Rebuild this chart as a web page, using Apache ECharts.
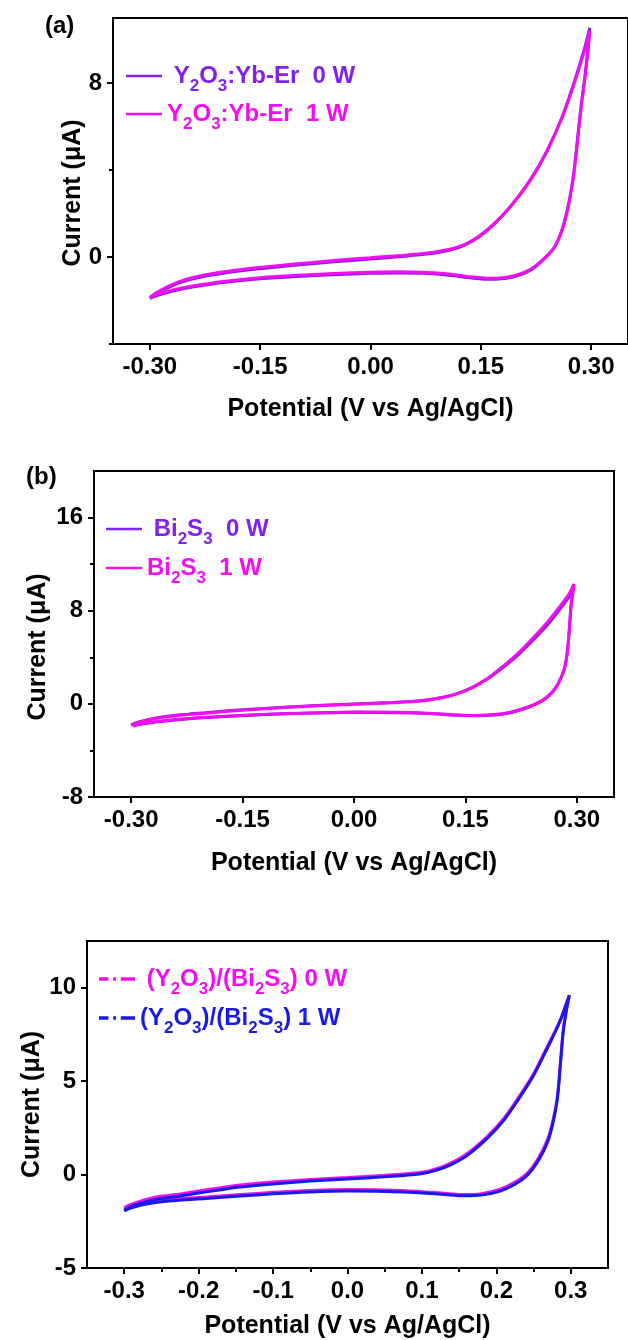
<!DOCTYPE html>
<html>
<head>
<meta charset="utf-8">
<script src="https://cdn.jsdelivr.net/npm/echarts@6/dist/echarts.min.js"></script>
<style>
	html,body{margin:0;padding:0;background:#fff;}
	#cvChart{width:628px;height:1340px;}
</style>
</head>
<body>
<div id="cvChart"></div>
<script>
	// ---- data: cyclic voltammograms, potential (V) / current (uA) ----
	// (a) Y2O3:Yb-Er
	const aFwdX = [-0.300,-0.290,-0.275,-0.260,-0.240,-0.220,-0.200,-0.170,-0.140,-0.100,-0.050,0.000,0.050,0.090,0.120,0.140,0.160,0.180,0.200,0.220,0.240,0.260,0.275,0.290,0.298]
	const aFwd0W = [-1.90,-1.68,-1.41,-1.19,-0.99,-0.85,-0.74,-0.61,-0.50,-0.37,-0.22,-0.09,0.05,0.20,0.44,0.76,1.26,1.92,2.72,3.68,4.88,6.40,7.85,9.50,10.55]
	const aFwd1W = [-1.85,-1.62,-1.35,-1.13,-0.93,-0.79,-0.68,-0.55,-0.44,-0.31,-0.16,-0.03,0.10,0.25,0.48,0.80,1.30,1.95,2.75,3.70,4.90,6.40,7.80,9.40,10.40]
	const aRevX = [0.295,0.291,0.287,0.283,0.279,0.275,0.268,0.260,0.250,0.238,0.225,0.212,0.195,0.175,0.158,0.140,0.120,0.100,0.070,0.040,0.000,-0.050,-0.100,-0.150,-0.200,-0.240,-0.270,-0.290,-0.300]
	const aRev0W = [9.40,8.20,7.15,5.95,4.65,3.55,2.25,1.22,0.45,-0.02,-0.42,-0.71,-0.91,-1.01,-1.02,-0.97,-0.89,-0.81,-0.75,-0.73,-0.75,-0.81,-0.89,-1.00,-1.17,-1.37,-1.57,-1.77,-1.90]
	const aRev1W = [9.30,8.10,7.10,5.90,4.60,3.50,2.20,1.20,0.45,0.00,-0.38,-0.66,-0.86,-0.96,-0.97,-0.92,-0.84,-0.76,-0.70,-0.68,-0.70,-0.76,-0.84,-0.95,-1.12,-1.32,-1.52,-1.72,-1.85]
	// (b) Bi2S3
	const bFwdX = [-0.300,-0.290,-0.275,-0.260,-0.240,-0.220,-0.200,-0.170,-0.140,-0.100,-0.050,0.000,0.050,0.090,0.120,0.140,0.160,0.180,0.200,0.220,0.240,0.260,0.275,0.290,0.296]
	const bFwd0W = [-1.80,-1.56,-1.31,-1.14,-0.98,-0.86,-0.76,-0.60,-0.47,-0.31,-0.14,-0.01,0.12,0.27,0.56,0.90,1.42,2.15,3.10,4.15,5.40,6.75,7.95,9.25,10.10]
	const bFwd1W = [-1.85,-1.60,-1.35,-1.18,-1.02,-0.90,-0.80,-0.64,-0.50,-0.34,-0.17,-0.03,0.10,0.25,0.55,0.90,1.45,2.20,3.20,4.30,5.60,7.00,8.20,9.50,10.30]
	const bRevX = [0.294,0.292,0.290,0.287,0.283,0.276,0.268,0.258,0.249,0.235,0.212,0.190,0.163,0.140,0.120,0.099,0.060,0.000,-0.050,-0.100,-0.153,-0.200,-0.240,-0.270,-0.290,-0.297]
	const bRev0W = [9.20,8.20,6.40,4.30,2.95,1.85,1.05,0.45,0.10,-0.30,-0.74,-0.95,-1.02,-0.98,-0.91,-0.83,-0.76,-0.73,-0.79,-0.88,-1.02,-1.18,-1.38,-1.58,-1.78,-1.93]
	const bRev1W = [9.40,8.40,6.60,4.40,3.00,1.90,1.10,0.50,0.15,-0.25,-0.70,-0.92,-0.99,-0.95,-0.88,-0.80,-0.73,-0.70,-0.76,-0.85,-0.99,-1.15,-1.35,-1.55,-1.75,-1.90]
	// (c) (Y2O3)/(Bi2S3)
	const cFwdX = [-0.300,-0.290,-0.275,-0.260,-0.240,-0.225,-0.200,-0.170,-0.144,-0.100,-0.050,0.000,0.050,0.097,0.120,0.140,0.160,0.188,0.210,0.231,0.250,0.269,0.285,0.298]
	const cFwd0W = [-1.77,-1.58,-1.38,-1.22,-1.12,-1.04,-0.88,-0.70,-0.56,-0.40,-0.26,-0.16,-0.04,0.11,0.32,0.64,1.10,2.05,3.00,4.20,5.40,6.90,8.20,9.60]
	const cFwd1W = [-1.90,-1.70,-1.50,-1.34,-1.23,-1.15,-0.99,-0.81,-0.67,-0.50,-0.35,-0.24,-0.12,0.03,0.24,0.55,1.00,1.95,2.90,4.10,5.30,6.80,8.15,9.60]
	const cRevX = [0.294,0.290,0.286,0.282,0.276,0.269,0.256,0.242,0.225,0.204,0.180,0.156,0.130,0.097,0.050,0.000,-0.050,-0.100,-0.144,-0.190,-0.240,-0.270,-0.290,-0.300]
	const cRev0W = [8.80,7.80,6.00,4.20,2.90,1.90,0.85,0.10,-0.40,-0.80,-1.02,-1.07,-1.00,-0.90,-0.82,-0.80,-0.85,-0.95,-1.07,-1.20,-1.34,-1.50,-1.70,-1.87]
	const cRev1W = [8.75,7.70,5.85,4.05,2.75,1.75,0.72,-0.02,-0.52,-0.90,-1.10,-1.14,-1.07,-0.97,-0.90,-0.88,-0.93,-1.03,-1.15,-1.28,-1.42,-1.58,-1.78,-1.95]

	// tick labels
	const abTicksX = [-0.30,-0.15,0.00,0.15,0.30]
	const cTicksX = [-0.3,-0.2,-0.1,0.0,0.1,0.2,0.3]
	const cMinorX = [-0.25,-0.15,-0.05,0.05,0.15,0.25]
	const aTicksY = [0,8]
	const aMinorY = [-4,4]
	const bTicksY = [-8,0,8,16]
	const bMinorY = [-4,4,12]
	const cTicksY = [-5,0,5,10]

	const purple = '#8021ee'
	const magenta = '#f20df2'
	const blue = '#1a1ae8'
	const font = '"Liberation Sans", Arial, sans-serif'
	// legend line icons (solid / dash-dot)
	const solidIcon = 'path://M0,0H36V2.4H0Z'
	const dashDotIcon = 'path://M0,0H10V3.6H0Z M15,0H18V3.6H15Z M23,0H38V3.6H23Z'

	const loop = (fx, fy, rx, ry) => {
		let pts = []
		fx.forEach((x, i) => pts.push([x, fy[i]]))
		rx.forEach((x, i) => pts.push([x, ry[i]]))
		return pts
	}

	const mainX = (grid, ticks, dec, gap) => ({
		type: 'value', gridIndex: grid, min: -0.35, max: 0.35, position: 'bottom',
		name: 'Potential (V vs Ag/AgCl)', nameLocation: 'middle', nameGap: gap, nameMoveOverlap: false,
		nameTextStyle: {fontSize: 25, fontWeight: 'bold', color: '#000', fontFamily: font},
		axisLine: {onZero: false, lineStyle: {color: '#000', width: 2}},
		axisTick: {show: true, length: 6, lineStyle: {width: 2, color: '#000'}, customValues: ticks},
		axisLabel: {fontSize: 24, fontWeight: 'bold', color: '#000', fontFamily: font, margin: 11,
			customValues: ticks, formatter: v => (Math.abs(v) < 1e-9 ? 0 : v).toFixed(dec)},
		splitLine: {show: false}
	})
	const mainY = (grid, min, max, ticks, gap, pad) => ({
		type: 'value', gridIndex: grid, min: min, max: max, position: 'left',
		name: 'Current (μA)', nameLocation: 'middle', nameGap: gap, nameMoveOverlap: false,
		nameTextStyle: {fontSize: 25, fontWeight: 'bold', color: '#000', fontFamily: font, padding: pad},
		axisLine: {onZero: false, lineStyle: {color: '#000', width: 2}},
		axisTick: {show: true, length: 6, lineStyle: {width: 2, color: '#000'}, customValues: ticks},
		axisLabel: {fontSize: 24, fontWeight: 'bold', color: '#000', fontFamily: font, margin: 11,
			customValues: ticks, formatter: v => Math.round(v)},
		splitLine: {show: false}
	})
	// extra axes only for the short minor ticks
	const minorAxis = (grid, min, max, ticks, pos) => ({
		type: 'value', gridIndex: grid, min: min, max: max, position: pos, offset: 0,
		axisLine: {show: false, onZero: false},
		axisTick: {show: true, length: 4, lineStyle: {width: 2, color: '#000'}, customValues: ticks},
		axisLabel: {show: false, customValues: ticks},
		splitLine: {show: false}
	})

	const rich = {
		p: {fontSize: 24, fontWeight: 'bold', color: purple, fontFamily: font},
		ps: {fontSize: 17, fontWeight: 'bold', color: purple, fontFamily: font, padding: [21, 0, 0, 0]},
		m: {fontSize: 24, fontWeight: 'bold', color: magenta, fontFamily: font},
		ms: {fontSize: 17, fontWeight: 'bold', color: magenta, fontFamily: font, padding: [21, 0, 0, 0]},
		b: {fontSize: 24, fontWeight: 'bold', color: blue, fontFamily: font},
		bs: {fontSize: 17, fontWeight: 'bold', color: blue, fontFamily: font, padding: [21, 0, 0, 0]}
	}
	const legendText = {
		a0: '{p| Y}{ps|2}{p|O}{ps|3}{p|:Yb-Er  0 W}',
		a1: '{m|Y}{ms|2}{m|O}{ms|3}{m|:Yb-Er  1 W}',
		b0: '{p| Bi}{ps|2}{p|S}{ps|3}{p|  0 W}',
		b1: '{m|Bi}{ms|2}{m|S}{ms|3}{m|  1 W}',
		c0: '{m| (Y}{ms|2}{m|O}{ms|3}{m|)/(Bi}{ms|2}{m|S}{ms|3}{m|) 0 W}',
		c1: '{b|(Y}{bs|2}{b|O}{bs|3}{b|)/(Bi}{bs|2}{b|S}{bs|3}{b|) 1 W}'
	}

	const mkLegend = (names, left, top, gap, icon) => ({
		orient: 'vertical', left: left, top: top, padding: 0, itemGap: gap,
		itemWidth: 36, itemHeight: 14, selectedMode: false, icon: icon,
		data: names,
		formatter: n => legendText[n],
		textStyle: {rich: rich}
	})

	const line = (name, color, x, y, data) => ({
		name: name, type: 'line', xAxisIndex: x, yAxisIndex: y,
		data: data, smooth: 0.3, symbol: 'none', showSymbol: false,
		lineStyle: {color: color, width: 3}, itemStyle: {color: color}
	})

	const myChart = echarts.init(document.getElementById('cvChart'))
	const titleStyle = {fontSize: 24, fontWeight: 'bold', color: '#000', fontFamily: font}
	const gridStyle = {show: true, borderColor: '#000', borderWidth: 2, backgroundColor: 'rgba(0,0,0,0)'}
	const chartOption = {
		backgroundColor: '#fff',
		animation: false,
		title: [
			{text: '(a)', left: 45, top: 14, padding: 0, textStyle: titleStyle},
			{text: '(b)', left: 26, top: 465, padding: 0, textStyle: titleStyle}
		],
		grid: [
			Object.assign({left: 113, top: 18, width: 523, height: 326}, gridStyle),
			Object.assign({left: 94, top: 471, width: 520, height: 326}, gridStyle),
			Object.assign({left: 87, top: 941, width: 521, height: 329}, gridStyle)
		],
		legend: [
			mkLegend(['a0', 'a1'], 126, 64, 7, solidIcon),
			mkLegend(['b0', 'b1'], 106, 517, 8, solidIcon),
			mkLegend(['c0', 'c1'], 99, 967, 8, dashDotIcon)
		],
		xAxis: [
			mainX(0, abTicksX, 2, 53),
			mainX(1, abTicksX, 2, 54),
			mainX(2, cTicksX, 1, 46),
			minorAxis(2, -0.35, 0.35, cMinorX, 'bottom')
		],
		yAxis: [
			mainY(0, -4, 11, aTicksY, 27, [0, 24, 0, 0]),
			mainY(1, -8, 20, bTicksY, 43, [0, 26, 0, 0]),
			mainY(2, -5, 12.5, cTicksY, 42, 0),
			minorAxis(0, -4, 11, aMinorY, 'left'),
			minorAxis(1, -8, 20, bMinorY, 'left')
		],
		series: [
			line('a0', purple, 0, 0, loop(aFwdX, aFwd0W, aRevX, aRev0W)),
			line('a1', magenta, 0, 0, loop(aFwdX, aFwd1W, aRevX, aRev1W)),
			line('b0', purple, 1, 1, loop(bFwdX, bFwd0W, bRevX, bRev0W)),
			line('b1', magenta, 1, 1, loop(bFwdX, bFwd1W, bRevX, bRev1W)),
			line('c0', magenta, 2, 2, loop(cFwdX, cFwd0W, cRevX, cRev0W)),
			line('c1', blue, 2, 2, loop(cFwdX, cFwd1W, cRevX, cRev1W))
		]
	}
	myChart.setOption(chartOption)
</script>
</body>
</html>
